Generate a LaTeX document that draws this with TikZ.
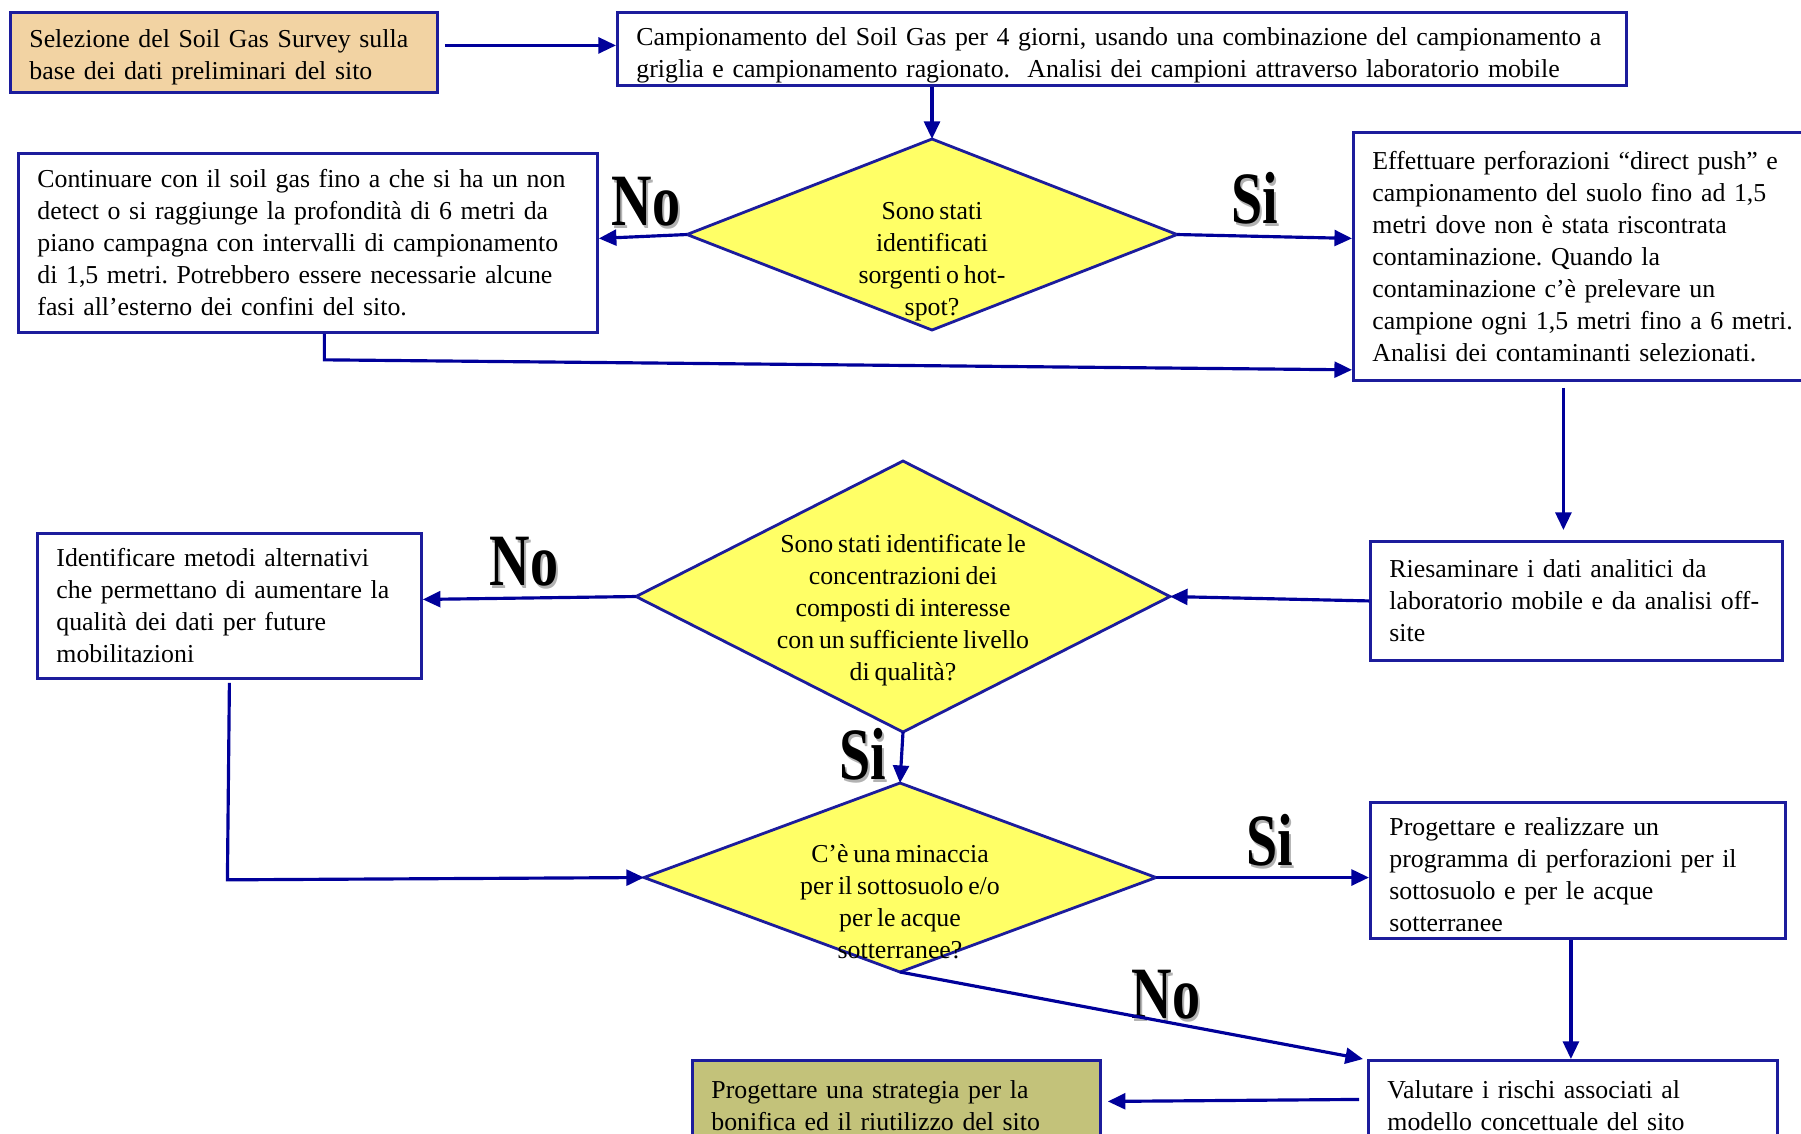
\documentclass[tikz,border=0pt]{standalone}
\usepackage{fontspec}
\setmainfont{Liberation Serif}[WordSpace=0.75]
\usepackage{graphicx}
\usetikzlibrary{arrows.meta,shapes.geometric,positioning}
\definecolor{framecolor}{HTML}{1C1C9C}
\definecolor{arrowcolor}{HTML}{00009A}
\definecolor{decisioncolor}{HTML}{FFFF66}
\definecolor{startcolor}{HTML}{F2D3A3}
\definecolor{endcolor}{HTML}{C3C27A}
\newcommand{\qtext}[2]{\makebox[0pt]{\smash{\raisebox{#1}{\begin{tabular}{@{}c@{}}#2\end{tabular}}}}}
\newcommand{\answer}[1]{\scalebox{0.76}[1]{\rlap{\textcolor{gray!60}{\hspace{0.8pt}\raisebox{-0.8pt}{#1}}}#1}}
\frenchspacing

\begin{document}
\begin{tikzpicture}[
    every node/.style={font=\fontsize{7.35}{9.1}\selectfont},
    box/.style={draw=framecolor, line width=0.8pt, anchor=north west, align=left, inner xsep=0.19cm, inner ysep=0pt},
    question/.style={diamond, draw=framecolor, line width=0.8pt, fill=decisioncolor, inner sep=0pt, outer sep=0pt},
    flow/.style={draw=arrowcolor, line width=0.9pt, -{Triangle[length=5pt,width=4.5pt]}},
    answer/.style={font=\fontsize{21}{21}\selectfont\bfseries, inner sep=0pt}
]
    \useasboundingbox (0,0) rectangle (18.01,-11.33);
    \clip (0,0) rectangle (18.01,-11.33);

    % Start and soil gas sampling
    \node[box, fill=startcolor, text width=3.89cm, minimum height=0.80cm] (sel) at (0.09,-0.11)
        {\rule{0pt}{7.6pt}Selezione del Soil Gas Survey sulla\\base dei dati preliminari del sito};
    \node[box, text width=9.71cm, minimum height=0.73cm] (camp) at (6.16,-0.11)
        {\rule{0pt}{8.7pt}Campionamento del Soil Gas per 4 giorni, usando una combinazione del campionamento a\\griglia e campionamento ragionato.\ \ Analisi dei campioni attraverso laboratorio mobile};

    % First decision
    \node[question, minimum width=4.90cm, minimum height=1.91cm] (q1) at (9.32,-2.345)
        {\qtext{-0.33cm}{Sono stati\\identificati\\sorgenti o hot-\\spot?}};
    \node[box, text width=5.41cm, minimum height=1.79cm] (cont) at (0.17,-1.52)
        {Continuare con il soil gas fino a che si ha un non\\detect o si raggiunge la profondità di 6 metri da\\piano campagna con intervalli di campionamento\\di 1,5 metri. Potrebbero essere necessarie alcune\\fasi all’esterno dei confini del sito.};
    \node[box, text width=4.32cm, minimum height=2.48cm] (perf) at (13.52,-1.31)
        {Effettuare perforazioni “direct push” e\\campionamento del suolo fino ad 1,5\\metri dove non è stata riscontrata\\contaminazione. Quando la\\contaminazione c’è prelevare un\\campione ogni 1,5 metri fino a 6 metri.\\Analisi dei contaminanti selezionati.};

    % Second decision
    \node[box, text width=3.74cm, minimum height=1.19cm] (ries) at (13.69,-5.40)
        {Riesaminare i dati analitici da\\laboratorio mobile e da analisi off-\\site};
    \node[question, minimum width=5.34cm, minimum height=2.71cm] (q2) at (9.03,-5.965)
        {\qtext{-0.20cm}{Sono stati identificate le\\concentrazioni dei\\composti di interesse\\con un sufficiente livello\\di qualità?}};
    \node[box, text width=3.46cm, minimum height=1.45cm] (ident) at (0.36,-5.32)
        {Identificare metodi alternativi\\che permettano di aumentare la\\qualità dei dati per future\\mobilitazioni};

    % Third decision
    \node[question, minimum width=5.12cm, minimum height=1.89cm] (q3) at (9.00,-8.775)
        {\qtext{-0.33cm}{C’è una minaccia\\per il sottosuolo e/o\\per le acque\\sotterranee?}};
    \node[box, text width=3.77cm, minimum height=1.36cm] (prog) at (13.69,-8.01)
        {\rule{0pt}{7.6pt}Progettare e realizzare un\\programma di perforazioni per il\\sottosuolo e per le acque\\sotterranee};
    \node[box, text width=3.71cm, minimum height=0.90cm] (valut) at (13.67,-10.59)
        {Valutare i rischi associati al\\modello concettuale del sito};
    \node[box, fill=endcolor, text width=3.70cm, minimum height=0.90cm] (bonif) at (6.91,-10.59)
        {Progettare una strategia per la\\bonifica ed il riutilizzo del sito};

    % Answers
    \node[answer] (no1) at (6.46,-2.03) {\answer{No}};
    \node[answer] (si1) at (12.55,-2.00) {\answer{Si}};
    \node[answer] (no2) at (5.24,-5.63) {\answer{No}};
    \node[answer] (si2) at (8.63,-7.56) {\answer{Si}};
    \node[answer] (si3) at (12.70,-8.42) {\answer{Si}};
    \node[answer] (no3) at (11.66,-9.96) {\answer{No}};

    % Connectors
    \draw[flow] ([xshift=0.06cm,yshift=0.07cm]sel.east) -- ([yshift=0.07cm]sel.east -| camp.west);
    \draw[flow] (q1.north |- camp.south) -- (q1.north);
    \draw[flow] (q1.west) -- ([yshift=0.045cm]cont.east);
    \draw[flow] (q1.east) -- ([yshift=0.18cm]perf.west);
    \draw[flow] ([xshift=0.165cm]cont.south) -- ++(0,-0.26) -- ([yshift=0.12cm]perf.south west);
    \draw[flow] ([xshift=-0.13cm,yshift=-0.06cm]ries.north |- perf.south) -- ([xshift=-0.13cm,yshift=0.1cm]ries.north);
    \draw[flow] (ries.west) -- (q2.east);
    \draw[flow] (q2.west) -- ([yshift=0.065cm]ident.east);
    \draw[flow] (q2.south) -- (q3.north);
    \draw[flow] ([yshift=-0.03cm]ident.south) -- ++(-0.02,-1.97) -- (q3.west);
    \draw[flow] (q3.east) -- (q3.east -| prog.west);
    \draw[flow] ([xshift=-0.07cm]prog.south) -- ([xshift=-0.07cm]prog.south |- valut.north);
    \draw[flow] (q3.south) -- ([xshift=-0.04cm]valut.north west);
    \draw[flow] ([xshift=-0.08cm,yshift=0.06cm]valut.west) -- ([xshift=0.06cm,yshift=0.04cm]bonif.east);
\end{tikzpicture}
\end{document}
